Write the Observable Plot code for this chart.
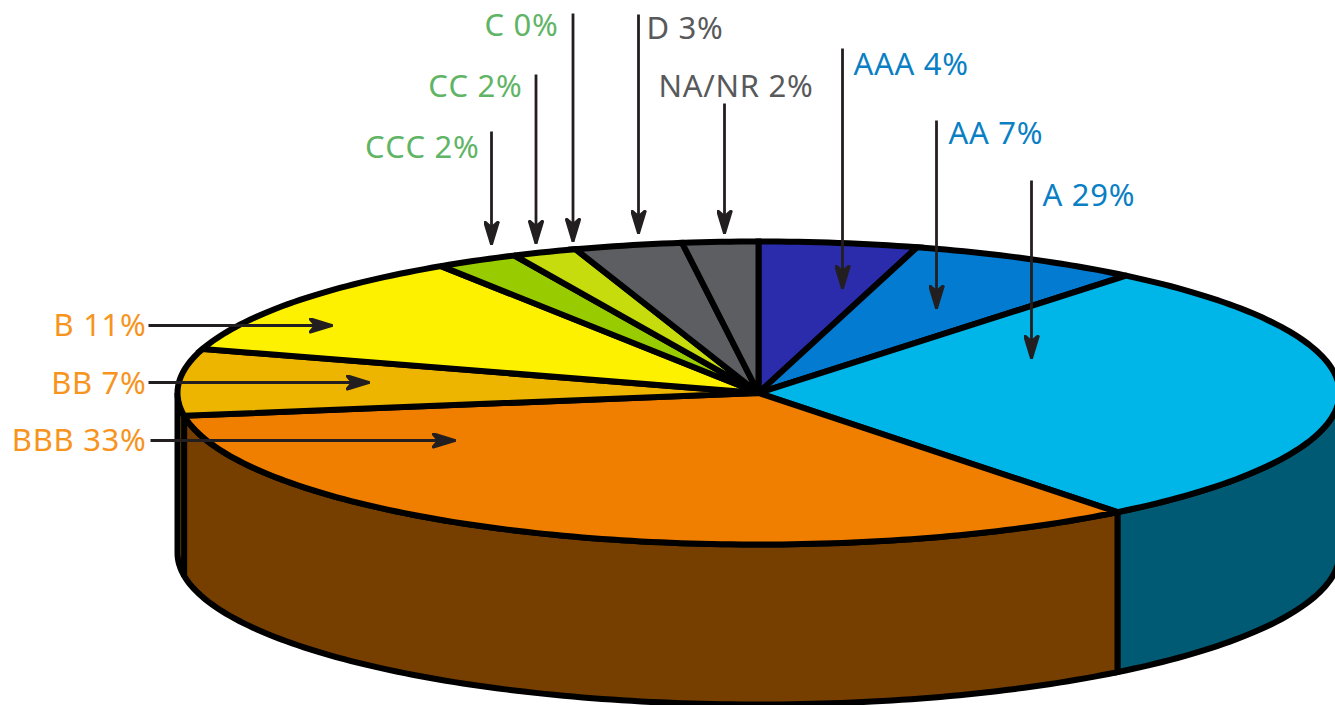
<!DOCTYPE html>
<html>
<head>
<meta charset="utf-8">
<style>
html,body{margin:0;padding:0;background:#fff;overflow:hidden}
svg{display:block}
</style>
<script src="https://cdn.jsdelivr.net/npm/d3@7"></script>
<script src="https://cdn.jsdelivr.net/npm/@observablehq/plot@0.6"></script>
</head>
<body>
<div id="chart"></div>
<script>
// Data
const categories = ["AAA","AA","A","BBB","BB","B","CCC","CC","C","D","NA/NR"];
const shares     = [4.4,6.5,28.5,33.2,7.1,11.1,2.3,1.8,0,3.0,2.1];      // wedge sizes
const printed    = [4,7,29,33,7,11,2,2,0,3,2];                           // percentages as printed
const topColors  = ["#2a2cab","#027bd0","#00b5e8","#f07f00","#eeb500","#fdf100","#99cc00","#c6dc0c","#5c5e62","#5c5e62","#5c5e62"];
const sideColors = ["#1a1a6b","#014d82","#005a73","#763f00","#8a6a00","#8f8800","#5c7a00","#75830a","#37383a","#37383a","#37383a"];
const textColors = ["#0a7fc4","#0a7fc4","#0a7fc4","#f7941d","#f7941d","#f7941d","#5fb565","#5fb565","#5fb565","#58595b","#58595b"];

// Annotation layout (in page units)
const labelX     = [853,948,1042,146,146,146,479,522,558,646,658];
const labelY     = [74,143,205,450,393,335,157,96,35,38,96];
const labelAlign = ["start","start","start","end","end","end","end","end","end","start","start"];
const arrowX1    = [842,936,1031,150,148,148,491,535.5,572.5,638,724];
const arrowY1    = [48,120,180,440,382,325,131,74,13,14,103];
const arrowX2    = [842,936,1031,455,369,332,491,535.5,572.5,638,724];
const arrowY2    = [288,308,358,440,382,325,244,243,241,233,233];

// Pie geometry
const W = 1335, H = 705;
const cx = 758, cy = 392.5, rx = 581, ry = 151.5, depth = 160;
const px = a => cx + rx * Math.sin(a);
const py = a => cy - ry * Math.cos(a);

const arcs = d3.pie().sort(null).value(d => d)(shares);

function arcAngles(a0, a1) {
  const n = Math.max(2, Math.ceil((a1 - a0) / (Math.PI / 180)));
  return d3.range(n + 1).map(i => a0 + (a1 - a0) * i / n);
}

const polys = [];
// side walls: only the front half of the drum shows
arcs.forEach((arc, i) => {
  const a0 = Math.max(arc.startAngle, Math.PI / 2);
  const a1 = Math.min(arc.endAngle, 3 * Math.PI / 2);
  if (a1 <= a0) return;
  const top = arcAngles(a0, a1).map(a => ({x: px(a), y: py(a)}));
  const bottom = arcAngles(a0, a1).reverse().map(a => ({x: px(a), y: py(a) + depth}));
  for (const p of [...top, ...bottom]) polys.push({...p, key: "side-" + categories[i]});
});
// top wedges
arcs.forEach((arc, i) => {
  if (shares[i] <= 0) return;
  const pts = [{x: cx, y: cy}, ...arcAngles(arc.startAngle, arc.endAngle).map(a => ({x: px(a), y: py(a)}))];
  for (const p of pts) polys.push({...p, key: "top-" + categories[i]});
});

const colorDomain = [...categories.map(c => "top-" + c), ...categories.map(c => "side-" + c)];
const colorRange = [...topColors, ...sideColors];

const labels = categories.map((c, i) => ({
  text: `${c} ${printed[i]}%`,
  x: labelX[i], y: labelY[i], align: labelAlign[i], color: textColors[i]
}));
const arrows = categories.map((c, i) => ({x1: arrowX1[i], y1: arrowY1[i], x2: arrowX2[i], y2: arrowY2[i]}));

function barbedHead(color, context) {
  const marker = d3.create("svg:marker")
    .attr("viewBox", "-24 -8 25 16")
    .attr("markerUnits", "userSpaceOnUse")
    .attr("markerWidth", 25)
    .attr("markerHeight", 16)
    .attr("refX", 0)
    .attr("refY", 0)
    .attr("orient", "auto");
  marker.append("path")
    .attr("d", "M0,0 L-23,-7 L-17,0 L-23,7 Z")
    .attr("fill", "#231f20");
  return marker.node();
}

const textOptions = {
  x: "x", y: "y", text: "text",
  lineAnchor: "bottom",
  fill: "color",
  fontSize: 31,
  fontFamily: "'Noto Sans', sans-serif"
};

const chart = Plot.plot({
  width: W, height: H,
  margin: 0,
  style: {letterSpacing: "0.7px", fontKerning: "none"},
  x: {type: "linear", domain: [0, W], range: [0, W], axis: null},
  y: {type: "linear", domain: [0, H], range: [0, H], axis: null},
  color: {type: "ordinal", domain: colorDomain, range: colorRange},
  marks: [
    Plot.line(polys, {
      x: "x", y: "y", z: "key",
      fill: "key", stroke: "#000", strokeWidth: 6,
      strokeLinejoin: "miter", strokeMiterlimit: 3,
      curve: "linear-closed"
    }),
    Plot.link(arrows, {
      x1: "x1", y1: "y1", x2: "x2", y2: "y2",
      stroke: "#231f20", strokeWidth: 2.8,
      markerEnd: barbedHead
    }),
    Plot.text(labels.filter(d => d.align === "start"), {...textOptions, textAnchor: "start"}),
    Plot.text(labels.filter(d => d.align === "end"), {...textOptions, textAnchor: "end"})
  ]
});
document.getElementById("chart").append(chart);
</script>
</body>
</html>
